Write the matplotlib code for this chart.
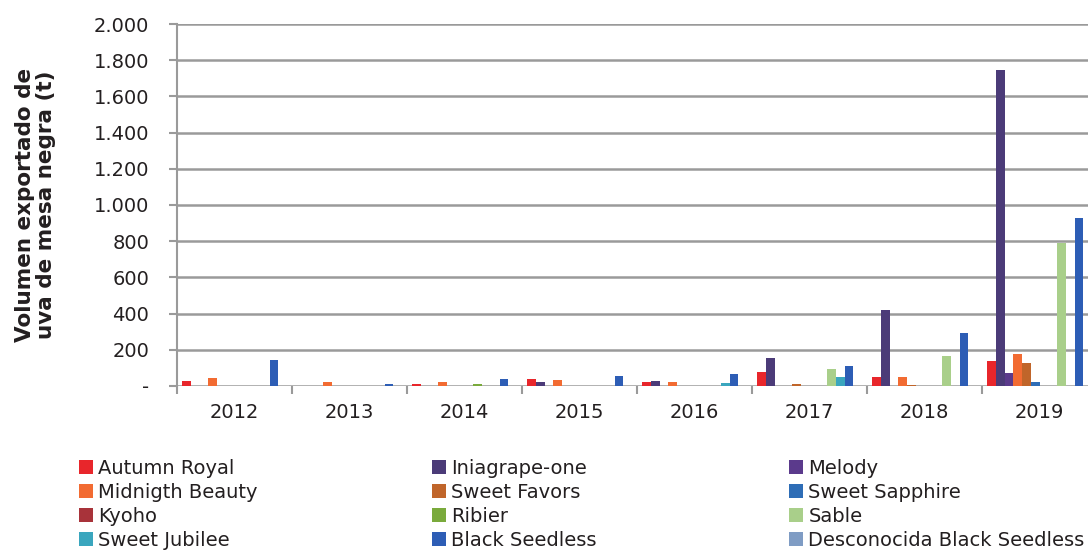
import numpy as np
import matplotlib
matplotlib.use("Agg")
import matplotlib.pyplot as plt
from matplotlib.patches import Patch
from matplotlib.ticker import FuncFormatter

years = ["2012", "2013", "2014", "2015", "2016", "2017", "2018", "2019"]

# series in Excel order (legend read row by row)
varieties = ["Autumn Royal", "Iniagrape-one", "Melody",
             "Midnigth Beauty", "Sweet Favors", "Sweet Sapphire",
             "Kyoho", "Ribier", "Sable",
             "Sweet Jubilee", "Black Seedless", "Desconocida Black Seedless"]

colors = ["#e8262b", "#4b3b78", "#5b3a8c",
          "#f26b32", "#c0652a", "#2e6db6",
          "#a8333a", "#7aaa3c", "#a9cf8a",
          "#3aa6be", "#2d5db5", "#7f9cc4"]

autumn_royal = [26, 0, 12, 37, 22, 80, 52, 138]
iniagrape_one = [0, 0, 0, 22, 27, 155, 421, 1745]
melody = [0, 0, 0, 0, 0, 0, 0, 70]
midnigth_beauty = [44, 24, 24, 31, 22, 0, 48, 175]
sweet_favors = [0, 0, 0, 0, 0, 10, 5, 129]
sweet_sapphire = [0, 0, 0, 0, 0, 0, 0, 22]
kyoho = [0, 0, 0, 0, 0, 0, 0, 0]
ribier = [0, 0, 12, 0, 0, 0, 0, 0]
sable = [0, 0, 0, 0, 0, 92, 164, 790]
sweet_jubilee = [0, 0, 0, 0, 18, 48, 0, 0]
black_seedless = [143, 13, 39, 55, 69, 109, 291, 929]
desconocida = [0, 0, 0, 0, 0, 0, 0, 0]

series = [autumn_royal, iniagrape_one, melody, midnigth_beauty, sweet_favors,
          sweet_sapphire, kyoho, ribier, sable, sweet_jubilee, black_seedless,
          desconocida]

W, H = 1088, 550
fig = plt.figure(figsize=(W / 100, H / 100), dpi=100)
ax = fig.add_axes([177 / W, 1 - 386 / H, 920 / W, 362 / H])

x = np.arange(len(years))
w = 0.0761
off = 0.0435
for i, (vals, c) in enumerate(zip(series, colors)):
    ax.bar(x - 0.5 + off + w * (i + 0.5), vals, width=w, color=c, zorder=3)

ax.set_xlim(-0.5, len(years) - 0.5)
ax.set_ylim(0, 2000)
ax.set_yticks(np.arange(0, 2001, 200))


def fmt(v, pos):
    if v == 0:
        return "-"
    return "{:,.0f}".format(v).replace(",", ".")


ax.yaxis.set_major_formatter(FuncFormatter(fmt))
ax.grid(axis="y", color="#9a9a9a", linewidth=1.8, zorder=0)
ax.set_axisbelow(True)
for s in ["top", "right", "bottom"]:
    ax.spines[s].set_visible(False)
ax.spines["left"].set_color("#9a9a9a")
ax.spines["left"].set_linewidth(1.5)

ax.set_xticks(x)
ax.set_xticklabels(years)
ax.set_xticks(np.arange(-0.5, len(years), 1), minor=True)
ax.tick_params(axis="x", which="major", length=0, labelsize=14, pad=12, labelcolor="#231f20")
ax.tick_params(axis="x", which="minor", length=6, width=1.5, color="#9a9a9a")
ax.tick_params(axis="y", length=6, width=1.5, color="#9a9a9a", labelsize=14,
               labelcolor="#231f20", pad=14)

ax.set_ylabel("Volumen exportado de\nuva de mesa negra (t)", fontsize=15.5,
              fontweight="bold", color="#231f20", linespacing=1.1)
ax.yaxis.set_label_coords(-0.131, 0.5)

handles = [Patch(facecolor=c, edgecolor="none") for c in colors]
col_x = [79, 432, 789]
for k in range(3):
    idx = [k, k + 3, k + 6, k + 9]
    fig.legend([handles[i] for i in idx], [varieties[i] for i in idx],
               loc="upper left", bbox_to_anchor=(col_x[k] / W, 1 - 459 / H),
               frameon=False, fontsize=14, handlelength=0.7, handleheight=0.7,
               handletextpad=0.3, labelspacing=0.25, borderpad=0, borderaxespad=0,
               labelcolor="#231f20")

fig.savefig("out.png", dpi=100)
